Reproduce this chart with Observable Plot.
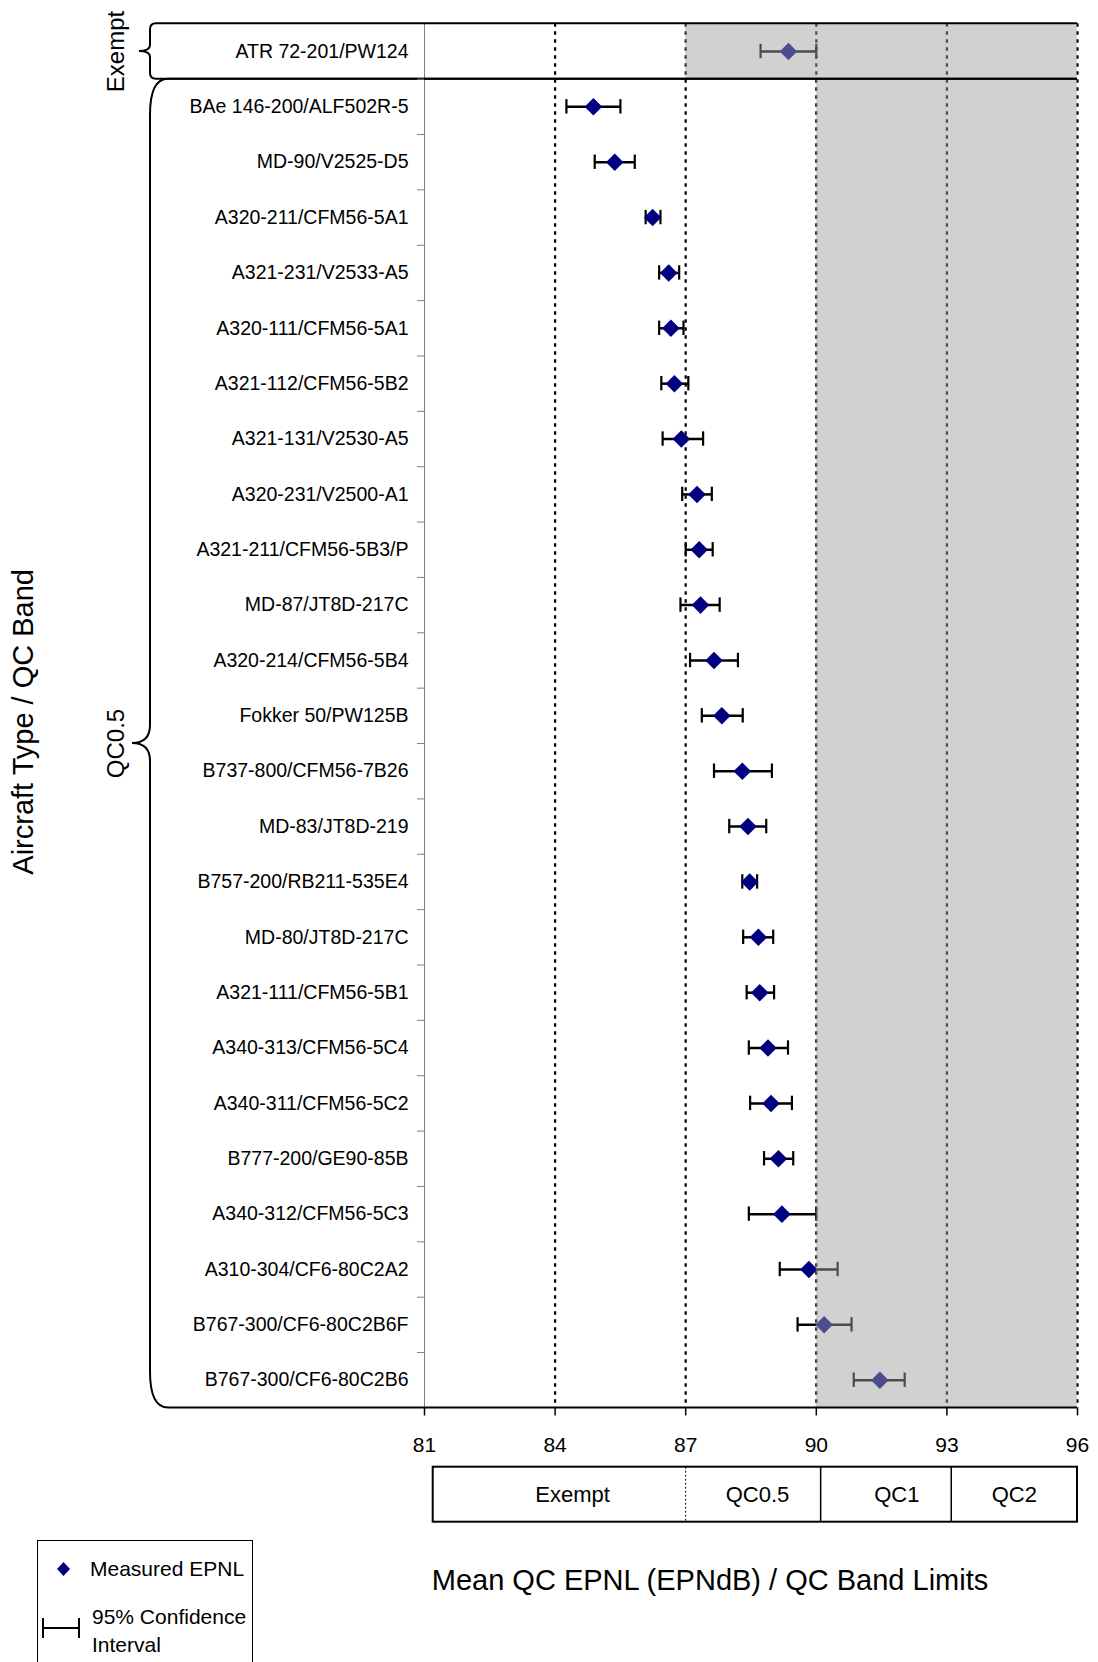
<!DOCTYPE html>
<html><head><meta charset="utf-8">
<script src="https://cdn.jsdelivr.net/npm/d3@7"></script>
<script src="https://cdn.jsdelivr.net/npm/@observablehq/plot@0.6"></script>
<style>
html,body{margin:0;padding:0;background:#fff;overflow:hidden;}
#wrap{position:relative;width:1098px;height:1662px;font-family:"Liberation Sans",Arial,sans-serif;color:#000;overflow:hidden;}
#main{position:absolute;left:0;top:0}
#bands{position:absolute;left:0;top:1460px}
.abs{position:absolute;white-space:nowrap}
</style></head><body>
<div id="wrap">
  <div id="main"></div>
  <div id="bands"></div>
  <div class="abs" style="left:37px;top:1540px;width:214px;height:160px;border:1.5px solid #000;"></div>
  <svg class="abs" style="left:57px;top:1562px" width="13" height="14"><polygon points="6.5,0 13,7 6.5,14 0,7" fill="#000080"/></svg>
  <div class="abs" style="left:90px;top:1556px;font-size:21px;line-height:26px;">Measured EPNL</div>
  <svg class="abs" style="left:41px;top:1616px" width="40" height="24"><g stroke="#000" stroke-width="2"><line x1="2" y1="12" x2="38" y2="12"/><line x1="2" y1="2" x2="2" y2="22"/><line x1="38" y1="2" x2="38" y2="22"/></g></svg>
  <div class="abs" style="left:92px;top:1603px;font-size:21px;line-height:28px;">95% Confidence<br>Interval</div>
  <div class="abs" style="left:310px;width:800px;text-align:center;top:1563px;font-size:29px;line-height:34px;">Mean QC EPNL (EPNdB) / QC Band Limits</div>
</div>
<script>
// ---- data ----
const aircraft = [
  "ATR 72-201/PW124", "BAe 146-200/ALF502R-5", "MD-90/V2525-D5", "A320-211/CFM56-5A1",
  "A321-231/V2533-A5", "A320-111/CFM56-5A1", "A321-112/CFM56-5B2", "A321-131/V2530-A5",
  "A320-231/V2500-A1", "A321-211/CFM56-5B3/P", "MD-87/JT8D-217C", "A320-214/CFM56-5B4",
  "Fokker 50/PW125B", "B737-800/CFM56-7B26", "MD-83/JT8D-219", "B757-200/RB211-535E4",
  "MD-80/JT8D-217C", "A321-111/CFM56-5B1", "A340-313/CFM56-5C4", "A340-311/CFM56-5C2",
  "B777-200/GE90-85B", "A340-312/CFM56-5C3", "A310-304/CF6-80C2A2", "B767-300/CF6-80C2B6F",
  "B767-300/CF6-80C2B6"
];
const qcBand = ["Exempt"].concat(Array(24).fill("QC0.5"));
const meanEPNL = [89.36, 84.88, 85.37, 86.24, 86.61, 86.66, 86.74, 86.90, 87.26, 87.31, 87.34, 87.65,
  87.83, 88.30, 88.43, 88.47, 88.67, 88.70, 88.89, 88.96, 89.13, 89.21, 89.83, 90.18, 91.46];
const ciLow = [88.72, 84.26, 84.91, 86.08, 86.39, 86.39, 86.44, 86.47, 86.92, 87.00, 86.88, 87.10,
  87.37, 87.65, 88.00, 88.30, 88.32, 88.40, 88.45, 88.48, 88.80, 88.45, 89.16, 89.57, 90.86];
const ciHigh = [90.00, 85.50, 85.83, 86.42, 86.85, 86.95, 87.06, 87.40, 87.60, 87.62, 87.78, 88.20,
  88.31, 88.98, 88.85, 88.64, 89.01, 89.03, 89.35, 89.44, 89.47, 90.00, 90.49, 90.81, 92.03];
const groupNames = ["Exempt", "QC0.5"];
const groupUpperLimit = [87, 90];
const xDomain = [81, 96];
const xTicks = [81, 84, 87, 90, 93, 96];
const gridX = [84, 87, 90, 93, 96];
const bandNames = ["Exempt", "QC0.5", "QC1", "QC2"];
const bandEdges = [81.2, 87.0, 90.1, 93.1, 96.0];
const bandLabelAt = [84.4, 88.65, 91.85, 94.55];
const yTitle = "Aircraft Type / QC Band";

// ---- tables ----
const rows = aircraft.map((name, i) => ({name, i, band: qcBand[i], mean: meanEPNL[i], lo: ciLow[i], hi: ciHigh[i], yc: i + 0.5}));
const groups = groupNames.map((g, k) => {
  const idx = rows.filter(r => r.band === g).map(r => r.i);
  return {name: g, from: d3.min(idx), to: d3.max(idx) + 1, limit: groupUpperLimit[k]};
});
const capHalf = 0.13;
const font = '"Liberation Sans", Arial, sans-serif';

function braces(index, scales, values, dimensions) {
  const {x, y} = scales;
  const ml = dimensions.marginLeft;
  const xr = x(xDomain[1]);
  const g = d3.create("svg:g").attr("fill", "none").attr("stroke", "#000").attr("stroke-width", 2);
  groups.forEach(gr => {
    const y0 = y(gr.from), y1 = y(gr.to), ym = (y0 + y1) / 2;
    const small = (y1 - y0) < 100;
    const xs = ml - 274, xt = small ? ml - 268 : ml - 256, xp = small ? ml - 285 : ml - 292;
    const r = small ? 6 : 36, rm = small ? 6 : 18;
    const p = `M${xt},${y0} Q${xs},${y0} ${xs},${y0 + r} L${xs},${ym - rm} Q${xs},${ym} ${xp},${ym} ` +
              `Q${xs},${ym} ${xs},${ym + rm} L${xs},${y1 - r} Q${xs},${y1} ${xt},${y1}`;
    g.append("path").attr("d", p);
    g.append("line").attr("x1", xt).attr("x2", xr).attr("y1", y0).attr("y2", y0);
    g.append("line").attr("x1", xt).attr("x2", xr).attr("y1", y1).attr("y2", y1);
  });
  return g.node();
}

const main = Plot.plot({
  width: 1098, height: 1460,
  marginLeft: 424, marginRight: 21, marginTop: 23.3, marginBottom: 52.6,
  style: {fontFamily: font, color: "#000", background: "white", overflow: "visible"},
  x: {domain: xDomain, label: null},
  y: {domain: [0, aircraft.length], reverse: true, label: null},
  marks: [
    Plot.ruleX(gridX, {stroke: "#000", strokeWidth: 2.2, strokeDasharray: "3.5,4.5"}),
    Plot.ruleY(rows, {y: "yc", x1: "lo", x2: "hi", stroke: "#000", strokeWidth: 2.5}),
    Plot.ruleX(rows, {x: "lo", y1: d => d.yc - capHalf, y2: d => d.yc + capHalf, stroke: "#000", strokeWidth: 2.2}),
    Plot.ruleX(rows, {x: "hi", y1: d => d.yc - capHalf, y2: d => d.yc + capHalf, stroke: "#000", strokeWidth: 2.2}),
    Plot.dot(rows, {x: "mean", y: "yc", symbol: "diamond2", r: 7.9, fill: "#000080", stroke: null}),
    Plot.rect(groups, {x1: "limit", x2: () => xDomain[1], y1: "from", y2: "to", fill: "#9e9e9e", fillOpacity: 0.48}),
    Plot.ruleX([xDomain[0]], {stroke: "#7f7f7f", strokeWidth: 1, insetBottom: -8}),
    braces,
    Plot.axisY({anchor: "left", ticks: rows.map(r => r.yc), tickFormat: v => aircraft[Math.floor(v)], tickSize: 0, tickPadding: 16, fontSize: 19.5, label: null}),
    Plot.axisY({anchor: "left", ticks: d3.range(1, aircraft.length), tickFormat: () => "", tickSize: 7, stroke: "#7f7f7f", label: null}),
    Plot.axisX({anchor: "bottom", ticks: xTicks, tickSize: 8, tickPadding: 21, fontSize: 21, strokeWidth: 1.5, label: null}),
    Plot.text(groups, {y: d => (d.from + d.to) / 2, text: "name", frameAnchor: "left", dx: -308.5, rotate: -90, fontSize: 24, textAnchor: "middle"}),
    Plot.text([yTitle], {text: d => d, frameAnchor: "left", dx: -401, dy: 6, rotate: -90, fontSize: 29, textAnchor: "middle"})
  ]
});
document.getElementById("main").appendChild(main);

const bandsPlot = Plot.plot({
  width: 1098, height: 64,
  marginLeft: 424, marginRight: 21, marginTop: 6.7, marginBottom: 2.3,
  style: {fontFamily: font, color: "#000", background: "transparent", overflow: "visible"},
  x: {domain: xDomain, axis: null},
  marks: [
    Plot.rect([bandEdges], {x1: d => d[0], x2: d => d[d.length - 1], fill: "none", stroke: "#000", strokeWidth: 2}),
    Plot.ruleX([bandEdges[1]], {stroke: "#000", strokeWidth: 1, strokeDasharray: "2,2"}),
    Plot.ruleX(bandEdges.slice(2, -1), {stroke: "#000", strokeWidth: 1.5}),
    Plot.text(bandNames, {x: (d, i) => bandLabelAt[i], text: d => d, fontSize: 22, frameAnchor: "middle"})
  ]
});
document.getElementById("bands").appendChild(bandsPlot);
</script>
</body></html>
